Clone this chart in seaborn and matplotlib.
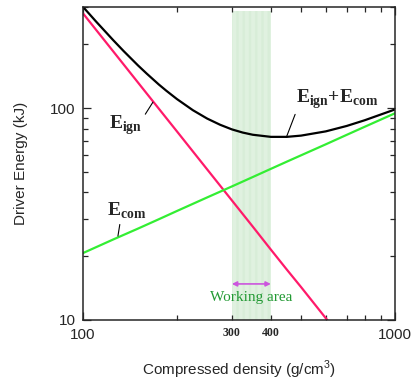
import matplotlib
matplotlib.use("Agg")
import matplotlib.pyplot as plt
import seaborn as sns
from matplotlib.ticker import FixedLocator, FixedFormatter, NullFormatter

# values (density in g/cm^3, energy in kJ)
density = [100, 125, 150, 175, 200, 250, 300, 350, 400, 450, 500, 600, 700, 800, 1000]
e_ign = [280, 185.3, 132.2, 99.4, 77.7, 51.4, 36.7, 27.6, 21.5, 17.3, 14.3, 10.2, 7.6, 6.0, 3.96]
e_com = [20.7, 24.0, 27.0, 29.9, 32.7, 37.9, 42.7, 47.3, 51.7, 55.9, 59.9, 67.5, 74.8, 81.7, 94.6]

density_sum = [100, 110, 125, 135, 150, 160, 175, 185, 200, 225, 250, 275, 300, 325,
               350, 400, 450, 500, 600, 700, 800, 1000]
e_sum = [300.7, 256.8, 209.3, 185.9, 159.2, 145.6, 129.3, 120.8, 110.4, 97.8, 89.3, 83.5,
         79.4, 76.7, 74.9, 73.2, 73.2, 74.2, 77.7, 82.4, 87.7, 98.6]

work_lo, work_hi = 300, 400
minor_x = [200, 300, 400, 500, 600, 700, 800, 900]
minor_x_labels = ["", "300", "400", "", "", "", "", ""]

sns.set_style("ticks")
plt.rcParams["font.family"] = ["Liberation Sans", "DejaVu Sans"]
plt.rcParams["mathtext.fontset"] = "custom"
plt.rcParams["mathtext.rm"] = "Liberation Serif"
plt.rcParams["mathtext.bf"] = "Liberation Serif:bold"
plt.rcParams["mathtext.sf"] = "Liberation Sans"
plt.rcParams["hatch.linewidth"] = 0.5

fig = plt.figure(figsize=(4.12, 3.83), dpi=100)
ax = fig.add_axes([0.2015, 0.1645, 0.7572, 0.817])

# working area band
ax.axvspan(work_lo, work_hi, ymin=0, ymax=0.987, facecolor="#f4fbf4",
           edgecolor="#cde8cd", hatch="|" * 14, linewidth=0, zorder=0)

sns.lineplot(x=density, y=e_ign, color="#ff1a6a", linewidth=1.6, ax=ax, sort=False)
sns.lineplot(x=density, y=e_com, color="#33ee33", linewidth=1.6, ax=ax, sort=False)
sns.lineplot(x=density_sum, y=e_sum, color="black", linewidth=1.6, ax=ax, sort=False)

ax.set_xscale("log")
ax.set_yscale("log")
ax.set_xlim(100, 1000)
ax.set_ylim(10, 300)

ax.xaxis.set_major_locator(FixedLocator([100, 1000]))
ax.xaxis.set_major_formatter(FixedFormatter(["100", "1000"]))
ax.xaxis.set_minor_locator(FixedLocator(minor_x))
ax.xaxis.set_minor_formatter(FixedFormatter(minor_x_labels))
ax.yaxis.set_major_locator(FixedLocator([10, 100]))
ax.yaxis.set_major_formatter(FixedFormatter(["10", "100"]))
ax.yaxis.set_minor_locator(FixedLocator([20, 30, 40, 50, 60, 70, 80, 90, 200, 300]))
ax.yaxis.set_minor_formatter(NullFormatter())

ax.tick_params(which="both", direction="in", top=True, right=True, width=0.9)
ax.tick_params(which="major", length=6, labelsize=11, pad=5.5)
ax.tick_params(which="minor", length=3.5)
ax.tick_params(axis="x", which="minor", labelsize=8.5, pad=5)
for lbl in ax.get_xticklabels(minor=True):
    lbl.set_fontfamily("Liberation Serif")
    lbl.set_fontweight("bold")
for sp in ax.spines.values():
    sp.set_linewidth(1.1)

ax.set_xlabel(r"Compressed density (g/cm$^{\mathsf{3}}$)", fontsize=11, labelpad=12)
ax.set_ylabel("Driver Energy (kJ)", fontsize=11, labelpad=16)

# curve labels with leader lines
lead = dict(arrowstyle="-", color="black", lw=0.8, shrinkA=0, shrinkB=0)
ax.annotate(r"$\mathbf{E}_{\mathbf{ign}}$", xy=(167.5, 106.7), xytext=(121, 80),
            fontsize=14, arrowprops=dict(lead, relpos=(1.0, 0.75)))
ax.annotate(r"$\mathbf{E}_{\mathbf{com}}$", xy=(129.4, 24.9), xytext=(119, 31),
            fontsize=14, arrowprops=dict(lead, relpos=(0.35, 0.0)))
ax.annotate(r"$\mathbf{E}_{\mathbf{ign}}\mathbf{+E}_{\mathbf{com}}$", xy=(448.7, 73),
            xytext=(483, 106), fontsize=14, arrowprops=dict(lead, relpos=(0.0, 0.0)))

# working area marker
ax.annotate("", xy=(work_hi, 14.8), xytext=(work_lo, 14.8),
            arrowprops=dict(arrowstyle="<|-|>", color="#cc55dd", lw=1.2,
                            mutation_scale=7, shrinkA=0, shrinkB=0))
ax.text(345, 12.8, "Working area", color="#229933", fontsize=11,
        family="Liberation Serif", ha="center", va="center")

fig.savefig("out.png", dpi=100)
